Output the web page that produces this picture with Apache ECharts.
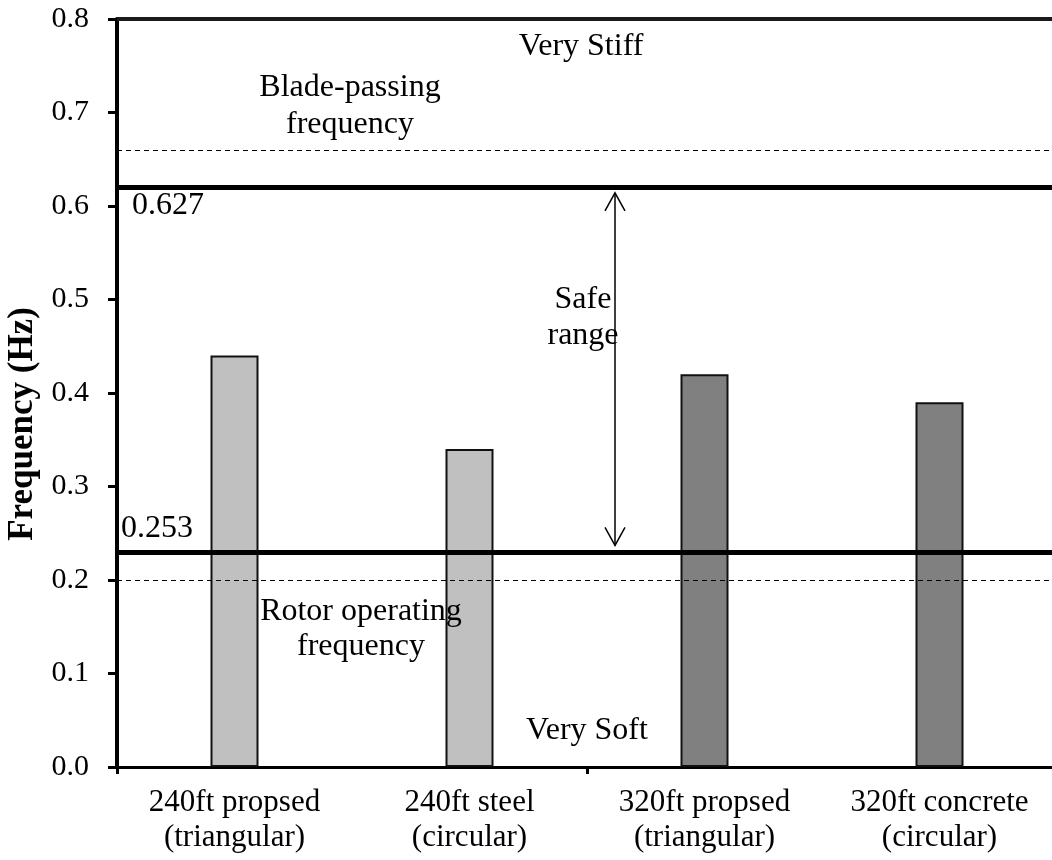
<!DOCTYPE html>
<html>
<head>
<meta charset="utf-8">
<script src="https://cdn.jsdelivr.net/npm/echarts@6/dist/echarts.min.js"></script>
<style>html,body{margin:0;padding:0;background:#fff;}#c{width:1052px;height:860px;}</style>
</head>
<body>
<div id="c"></div>
<script>
const categories = ['240ft propsed\n(triangular)', '240ft steel\n(circular)', '320ft propsed\n(triangular)', '320ft concrete\n(circular)'];
const groups = ['240ft', '240ft', '320ft', '320ft'];
const frequencies = [0.44, 0.34, 0.42, 0.39];
const yTicks = [0, 0.1, 0.2, 0.3, 0.4, 0.5, 0.6, 0.7, 0.8];
const safeBounds = [0.623, 0.228];
const safeBoundLabels = ['0.627', '0.253'];
const excitationLines = [0.664, 0.198];
const arrowRange = [0.614, 0.237];

const FONT = 'Liberation Serif';
const groupColor = {'240ft': '#c0c0c0', '320ft': '#808080'};

const chart = echarts.init(document.getElementById('c'), null, {renderer: 'canvas'});

const markData = [
  {yAxis: 0.8, lineStyle: {color: '#1a1a1a', width: 4, type: 'solid'}},
  {yAxis: safeBounds[0], lineStyle: {color: '#000', width: 5, type: 'solid'}},
  {yAxis: safeBounds[1], lineStyle: {color: '#000', width: 5, type: 'solid'}},
  {yAxis: excitationLines[0], lineStyle: {color: '#000', width: 1, type: [5, 4]}},
  {yAxis: excitationLines[1], lineStyle: {color: '#000', width: 1, type: [5, 4]}}
];

chart.setOption({
  animation: false,
  backgroundColor: '#fff',
  grid: {left: 117, top: 19, width: 940, height: 748, containLabel: false, outerBoundsMode: 'none'},
  xAxis: {
    type: 'category',
    data: categories,
    boundaryGap: true,
    axisLine: {lineStyle: {color: '#000', width: 3}},
    axisTick: {show: true, interval: (i) => i % 2 === 0, length: 7, lineStyle: {color: '#000', width: 3}},
    axisLabel: {fontFamily: FONT, fontSize: 31, color: '#000', lineHeight: 35, margin: 18, interval: 0}
  },
  yAxis: {
    type: 'value',
    min: 0, max: 0.8, interval: 0.1,
    name: 'Frequency (Hz)',
    nameLocation: 'middle',
    nameGap: 67,
    nameTextStyle: {fontFamily: FONT, fontSize: 35, fontWeight: 'bold', color: '#000', padding: [0, 62, 0, 0]},
    axisLine: {show: true, lineStyle: {color: '#000', width: 4}},
    axisTick: {show: true, length: 9, lineStyle: {color: '#000', width: 3}},
    splitLine: {show: false},
    axisLabel: {fontFamily: FONT, fontSize: 30, color: '#000', margin: 28,
      formatter: v => (yTicks.some(t => Math.abs(t - v) < 1e-9) ? v.toFixed(1) : '')}
  },
  series: [{
    type: 'bar',
    barWidth: 48,
    data: frequencies.map((v, i) => ({value: v, itemStyle: {color: groupColor[groups[i]]}})),
    itemStyle: {borderColor: '#111', borderWidth: 2},
    markLine: {silent: true, symbol: 'none', label: {show: false}, data: markData}
  }]
});

function px(yv) { return chart.convertToPixel({gridIndex: 0}, [0, yv])[1]; }
const FS = 32;
const textStyle = (t, x, y, lh) => ({
  type: 'text', x: x, y: y, z: 100,
  style: {text: t, fontFamily: FONT, fontSize: FS, fill: '#000', align: 'center', verticalAlign: 'middle', lineHeight: lh || 36}
});
const ax = 615;
const yt = px(arrowRange[0]);
const yb = px(arrowRange[1]);
chart.setOption({
  graphic: [
    textStyle('Very Stiff', 581, 47),
    textStyle('Blade-passing\nfrequency', 350, 106, 37),
    {type: 'text', x: 132, y: px(safeBounds[0]) + 21, z: 100, style: {text: safeBoundLabels[0], fontFamily: FONT, fontSize: FS, fill: '#000', align: 'left', verticalAlign: 'middle'}},
    {type: 'text', x: 121, y: px(safeBounds[1]) - 25, z: 100, style: {text: safeBoundLabels[1], fontFamily: FONT, fontSize: FS, fill: '#000', align: 'left', verticalAlign: 'middle'}},
    textStyle('Safe\nrange', 583, 318),
    textStyle('Rotor operating\nfrequency', 361, 629, 35),
    textStyle('Very Soft', 587, 731),
    {type: 'line', z: 100, shape: {x1: ax, y1: yt, x2: ax, y2: yb}, style: {stroke: '#000', lineWidth: 1.5}},
    {type: 'polyline', z: 100, shape: {points: [[ax - 10, yt + 18], [ax, yt], [ax + 10, yt + 18]]}, style: {stroke: '#000', lineWidth: 1.5, fill: null}},
    {type: 'polyline', z: 100, shape: {points: [[ax - 10, yb - 18], [ax, yb], [ax + 10, yb - 18]]}, style: {stroke: '#000', lineWidth: 1.5, fill: null}}
  ]
});
</script>
</body>
</html>
